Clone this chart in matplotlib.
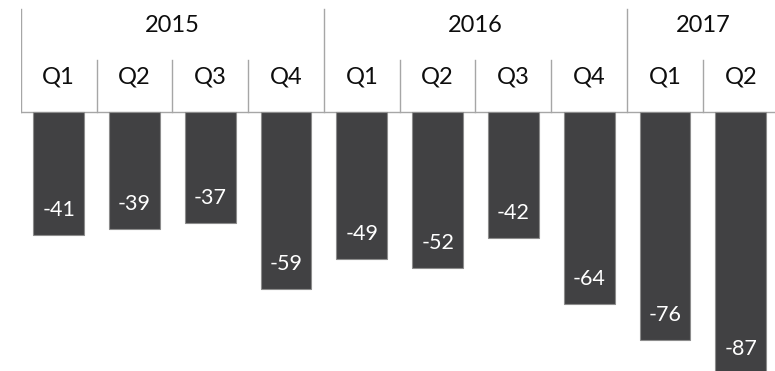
import matplotlib
matplotlib.use("Agg")
import matplotlib.pyplot as plt

# data
years = ["2015", "2016", "2017"]
year_quarters = [4, 4, 2]
quarters = ["Q1", "Q2", "Q3", "Q4", "Q1", "Q2", "Q3", "Q4", "Q1", "Q2"]
values = [-41, -39, -37, -59, -49, -52, -42, -64, -76, -87]

plt.rcParams['font.family'] = ['Lato', 'DejaVu Sans']

W, H = 775, 371
left_px = 20.7
slot_px = 75.8
unit_px = 3.01
axis_px = 111.7

fig = plt.figure(figsize=(W / 100, H / 100), dpi=100)
ax = fig.add_axes([left_px / W, 0, 1 - left_px / W, 1])
ax.set_xlim(0, (W - left_px) / slot_px)
ax.set_ylim(-(H - axis_px) / unit_px, axis_px / unit_px)
ax.axis('off')

bar_color = '#414143'
line_color = '#a6a6a6'

x = [i + 0.5 for i in range(len(values))]
ax.bar(x, values, width=0.67, color=bar_color, edgecolor='#8c8c8c', linewidth=0.8, zorder=2)

for xi, v in zip(x, values):
    ax.annotate(str(v), (xi, v), xytext=(0, 18), textcoords='offset points',
                ha='center', va='center', color='white', fontsize=15.5, zorder=3,
                annotation_clip=False)

# header: axis line, separators, labels
ax.plot([0, len(values)], [0, 0], color=line_color, lw=1, zorder=1)
year_top = (axis_px - 9) / unit_px
q_top = (axis_px - 60) / unit_px
year_y = (axis_px - 25.5) / unit_px
q_y = (axis_px - 77) / unit_px

pos = 0
for yr, n in zip(years, year_quarters):
    ax.plot([pos, pos], [0, year_top], color=line_color, lw=1)
    ax.text(pos + n / 2, year_y, yr, ha='center', va='center', fontsize=17, color='#0d0d0d')
    pos += n
ax.plot([pos, pos], [0, year_top], color=line_color, lw=1)

pos = 0
for n in year_quarters:
    for k in range(1, n):
        ax.plot([pos + k, pos + k], [0, q_top], color=line_color, lw=1)
    pos += n

for xi, q in zip(x, quarters):
    ax.text(xi, q_y, q, ha='center', va='center', fontsize=17, color='#0d0d0d')

fig.savefig("out.png", dpi=100, facecolor='white')
